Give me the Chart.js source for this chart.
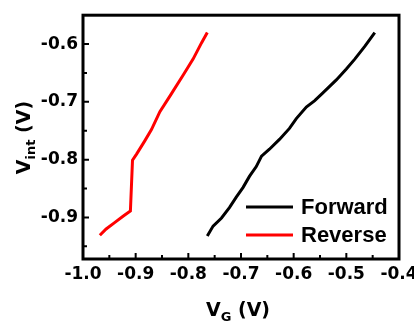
<!DOCTYPE html>
<html lang="en">
<head>
    <meta charset="UTF-8">
    <title>Vint vs VG</title>
    <script src="https://cdn.jsdelivr.net/npm/chart.js"></script>
    <style>
        body {
            margin: 0;
            padding: 0;
            background: #fff;
        }
        .wrap {
            width: 414px;
            height: 328px;
        }
    </style>
</head>
<body>

    <div class="wrap">
        <canvas id="vChart" width="414" height="328"></canvas>
    </div>

    <script>
        // Forward sweep (black)
        const forwardVG = [-0.764, -0.753, -0.737, -0.722, -0.709, -0.696, -0.684, -0.671, -0.661, -0.646, -0.627, -0.608, -0.595, -0.576, -0.560, -0.545, -0.519, -0.500, -0.484, -0.465, -0.446];
        const forwardVint = [-0.932, -0.915, -0.901, -0.883, -0.865, -0.848, -0.829, -0.812, -0.794, -0.782, -0.765, -0.746, -0.729, -0.709, -0.698, -0.685, -0.662, -0.643, -0.626, -0.604, -0.580];

        // Reverse sweep (red)
        const reverseVG = [-0.968, -0.956, -0.940, -0.924, -0.910, -0.906, -0.898, -0.883, -0.870, -0.854, -0.835, -0.810, -0.791, -0.775, -0.764];
        const reverseVint = [-0.931, -0.920, -0.909, -0.898, -0.889, -0.801, -0.790, -0.768, -0.748, -0.717, -0.690, -0.654, -0.626, -0.598, -0.580];

        const xTicks = [-1.0, -0.9, -0.8, -0.7, -0.6, -0.5, -0.4];
        const yTicks = [-0.9, -0.8, -0.7, -0.6];
        const xMinor = [-0.95, -0.85, -0.75, -0.65, -0.55, -0.45];
        const yMinor = [-0.95, -0.85, -0.75, -0.65];

        const tickFont = { family: 'DejaVu Sans', size: 17, weight: 'bold' };

        function toPoints(xs, ys) {
            return xs.map((x, i) => ({ x: x, y: ys[i] }));
        }

        // frame, inward ticks, axis titles, legend
        const decorPlugin = {
            id: 'decor',
            afterDraw(chart) {
                const ctx = chart.ctx;
                const area = chart.chartArea;
                const xs = chart.scales.x;
                const ys = chart.scales.y;
                ctx.save();

                // ticks pointing inward
                ctx.strokeStyle = '#000';
                ctx.lineWidth = 2;
                ctx.beginPath();
                xTicks.forEach(v => {
                    const px = xs.getPixelForValue(v);
                    ctx.moveTo(px, area.bottom);
                    ctx.lineTo(px, area.bottom - 6);
                });
                xMinor.forEach(v => {
                    const px = xs.getPixelForValue(v);
                    ctx.moveTo(px, area.bottom);
                    ctx.lineTo(px, area.bottom - 4);
                });
                yTicks.forEach(v => {
                    const py = ys.getPixelForValue(v);
                    ctx.moveTo(area.left, py);
                    ctx.lineTo(area.left + 6, py);
                });
                yMinor.forEach(v => {
                    const py = ys.getPixelForValue(v);
                    ctx.moveTo(area.left, py);
                    ctx.lineTo(area.left + 4, py);
                });
                ctx.stroke();

                // box
                ctx.lineWidth = 3;
                ctx.strokeRect(area.left, area.top, area.right - area.left, area.bottom - area.top);

                // x title  V_G (V)
                ctx.fillStyle = '#000';
                ctx.textBaseline = 'alphabetic';
                const big = 'bold 19px "DejaVu Sans"';
                const small = 'bold 13px "DejaVu Sans"';
                ctx.font = big;
                const wV = ctx.measureText('V').width;
                const wRest = ctx.measureText(' (V)').width;
                ctx.font = small;
                const wG = ctx.measureText('G').width;
                let x0 = 238 - (wV + wG + wRest) / 2;
                const by = 316;
                ctx.font = big;
                ctx.fillText('V', x0, by);
                ctx.font = small;
                ctx.fillText('G', x0 + wV, by + 5);
                ctx.font = big;
                ctx.fillText(' (V)', x0 + wV + wG, by);

                // y title  V_int (V)
                ctx.save();
                ctx.translate(30, 137.5);
                ctx.rotate(-Math.PI / 2);
                ctx.font = big;
                const wV2 = ctx.measureText('V').width;
                const wR2 = ctx.measureText(' (V)').width;
                ctx.font = small;
                const wI = ctx.measureText('int').width;
                let s0 = -(wV2 + wI + wR2) / 2;
                ctx.font = big;
                ctx.fillText('V', s0, 0);
                ctx.font = small;
                ctx.fillText('int', s0 + wV2, 5);
                ctx.font = big;
                ctx.fillText(' (V)', s0 + wV2 + wI, 0);
                ctx.restore();

                // legend
                ctx.font = 'bold 22px "Liberation Sans"';
                ctx.textBaseline = 'middle';
                ctx.lineWidth = 3;
                chart.data.datasets.forEach((ds, i) => {
                    const ly = 207 + i * 28;
                    ctx.strokeStyle = ds.borderColor;
                    ctx.beginPath();
                    ctx.moveTo(246, ly);
                    ctx.lineTo(293, ly);
                    ctx.stroke();
                    ctx.fillText(ds.label, 301, ly + 1);
                });

                ctx.restore();
            }
        };

        new Chart(document.getElementById('vChart'), {
            type: 'scatter',
            data: {
                datasets: [{
                    label: 'Forward',
                    data: toPoints(forwardVG, forwardVint),
                    borderColor: '#000000',
                    backgroundColor: '#000000',
                    showLine: true,
                    borderWidth: 3,
                    pointRadius: 0,
                    tension: 0
                }, {
                    label: 'Reverse',
                    data: toPoints(reverseVG, reverseVint),
                    borderColor: '#ff0000',
                    backgroundColor: '#ff0000',
                    showLine: true,
                    borderWidth: 3,
                    pointRadius: 0,
                    tension: 0
                }]
            },
            options: {
                responsive: false,
                animation: false,
                layout: {
                    padding: { top: 6, right: 15, left: 0, bottom: 0 }
                },
                plugins: {
                    legend: { display: false },
                    tooltip: { enabled: false }
                },
                scales: {
                    x: {
                        type: 'linear',
                        min: -1.0,
                        max: -0.4,
                        afterBuildTicks: (scale) => {
                            scale.ticks = xTicks.map(v => ({ value: v }));
                        },
                        afterFit: (scale) => {
                            scale.height = 69;
                            scale.paddingLeft = 0;
                            scale.paddingRight = 0;
                        },
                        grid: { display: false, drawTicks: false },
                        border: { display: false },
                        ticks: {
                            color: '#000',
                            font: tickFont,
                            padding: 5,
                            maxRotation: 0,
                            autoSkip: false,
                            callback: (v) => v.toFixed(1)
                        }
                    },
                    y: {
                        type: 'linear',
                        min: -0.972,
                        max: -0.55,
                        afterBuildTicks: (scale) => {
                            scale.ticks = yTicks.map(v => ({ value: v }));
                        },
                        afterFit: (scale) => {
                            scale.width = 83;
                        },
                        grid: { display: false, drawTicks: false },
                        border: { display: false },
                        ticks: {
                            color: '#000',
                            font: tickFont,
                            padding: 5,
                            autoSkip: false,
                            callback: (v) => v.toFixed(1)
                        }
                    }
                }
            },
            plugins: [decorPlugin]
        });
    </script>

</body>
</html>
